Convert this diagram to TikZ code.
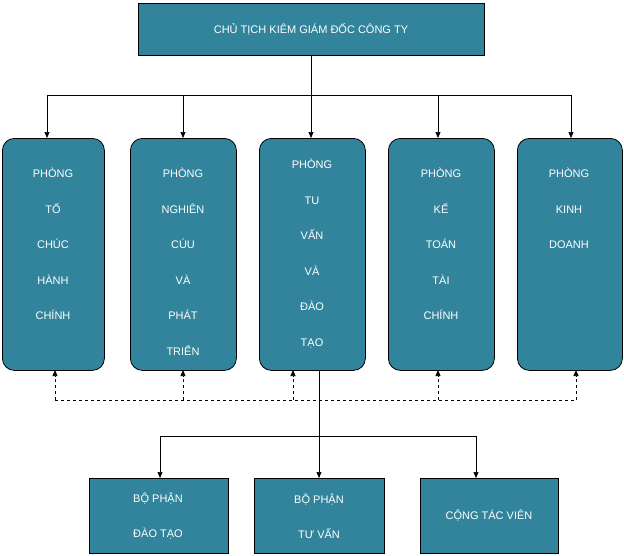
\documentclass[tikz,border=0pt]{standalone}
\usepackage{fontspec}
\setmainfont{Liberation Sans}
\usetikzlibrary{arrows.meta}
\definecolor{teal}{HTML}{31849B}
\begin{document}
\begin{tikzpicture}[x=1pt,y=-1pt,
  box/.style={draw=black,fill=teal,line width=0.8pt,anchor=north west,inner sep=0},
  rbox/.style={box,rounded corners=12pt},
  txt/.style={text=white,align=center,font=\fontsize{11}{35.5}\selectfont,anchor=north,inner sep=0},
  arr/.style={-{Triangle[length=6pt,width=5pt]},line width=0.7pt},
  darr/.style={arr,dashed}]
\useasboundingbox (0,0) rectangle (624,555);
\node[box,minimum width=346pt,minimum height=52pt] (top) at (138,3) {};
\node[text=white,font=\fontsize{11}{13}\selectfont] (tt) at (311,29) {CHỦ TỊCH KIÊM GIÁM ĐỐC CÔNG TY};
\foreach \n/\x/\w in {a/2/102,b/130/106,c/259/106,d/388/106,e/517/105}
  \node[rbox,minimum width=\w pt,minimum height=232pt] (\n) at (\x,138) {};
\node[txt] (ta) at (53,168) {PHÒNG\\TỔ\\CHÚC\\HÀNH\\CHÍNH};
\node[txt] (tb) at (183,168) {PHÒNG\\NGHIÊN\\CÚU\\VÀ\\PHÁT\\TRIỂN};
\node[txt] (tc) at (312,159) {PHÒNG\\TU\\VẤN\\VÀ\\ĐÀO\\TẠO};
\node[txt] (td) at (441,168) {PHÒNG\\KẾ\\TOÁN\\TÀI\\CHÍNH};
\node[txt] (te) at (569,168) {PHÒNG\\KINH\\DOANH};
\foreach \n/\x/\w/\t in {f/89/139/{BỘ PHẬN\\ĐÀO TẠO},g/254/130/{BỘ PHẬN\\TƯ VẤN},h/420/138/{CỘNG TÁC VIÊN}}
  \node[box,minimum width=\w pt,minimum height=75pt] (\n) at (\x,478) {};
\node[text=white,align=center,font=\fontsize{11}{35}\selectfont] (tf) at (158,516) {BỘ PHẬN\\ĐÀO TẠO};
\node[text=white,align=center,font=\fontsize{11}{35}\selectfont] (tg) at (319,516) {BỘ PHẬN\\TƯ VẤN};
\node[text=white,font=\fontsize{11}{13}\selectfont] (th) at (489,516) {CỘNG TÁC VIÊN};
% top connectors
\coordinate (j) at (311,95);
\draw[line width=0.7pt] (top.south -| j) -- (j);
\draw[line width=0.7pt] (47,95) -- (571,95);
\foreach \n/\x in {a/47,b/183,c/311,d/438,e/571}
  \draw[arr] (\x,95) -- (\x,138);
% dashed
\draw[dashed,line width=0.7pt] (55,400) -- (576,400);
\foreach \n/\x in {a/55,b/183,c/293,d/438,e/576}
  \draw[darr] (\x,400) -- (\x,370);
% bottom
\draw[arr] (319,370) -- (319,478);
\draw[line width=0.7pt] (160,436) -- (476,436);
\draw[arr] (160,436) -- (160,478);
\draw[arr] (476,436) -- (476,478);
\end{tikzpicture}
\end{document}
